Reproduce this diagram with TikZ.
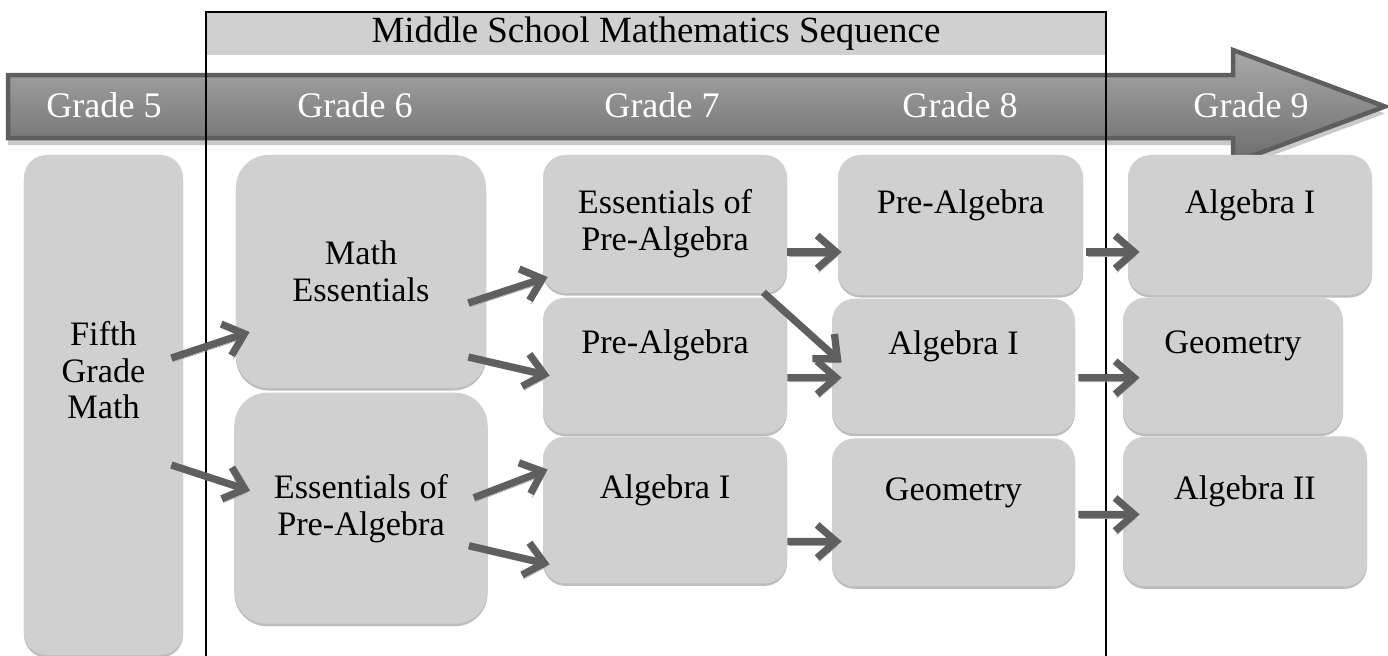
\documentclass[tikz,border=0pt]{standalone}
\usepackage{fontspec}
\setmainfont{Liberation Serif}
\usetikzlibrary{arrows.meta,positioning,calc}
\definecolor{msbox}{HTML}{D0D0D0}
\definecolor{msboxshade}{HTML}{BDBDBD}
\definecolor{msarrow}{HTML}{5F5F5F}
\definecolor{msshadow}{HTML}{ADADAD}
\definecolor{msbandtop}{HTML}{AAAAAA}
\definecolor{msbandbot}{HTML}{6C6C6C}
\definecolor{msbandline}{HTML}{5E5E5E}
\definecolor{msbandshade}{HTML}{C9C9C9}

\begin{document}
\begin{tikzpicture}[x=0.2mm,y=-0.2mm,
  course/.style={fill=msbox,rounded corners=4.5mm,align=center,inner sep=0pt,
    font=\fontsize{19.5}{21}\selectfont,
    preaction={fill=msboxshade,transform canvas={yshift=-0.5mm}}},
  oneline/.style={text depth=9.5mm},
  grade/.style={text=white,font=\fontsize{20.5}{24}\selectfont},
  flow/.style={-{Straight Barb[length=3.8mm,width=6.6mm]},msarrow,line width=1.45mm,
    preaction={draw=msshadow,-{Straight Barb[length=3.8mm,width=6.6mm]},
      transform canvas={xshift=0.3mm,yshift=-0.8mm}}}]
\useasboundingbox (0,0) rectangle (1388,656);

% grade banner
\path[draw=msbandline,line width=0.9mm,line join=miter,top color=msbandtop,bottom color=msbandbot,
  preaction={fill=msbandshade,transform canvas={yshift=-1.4mm}}]
  (8,75) -- (1233,75) -- (1233,50) -- (1385,106.5) -- (1233,163) -- (1233,138) -- (8,138) -- cycle;
\node[grade] (g5) at (104,105.5) {Grade 5};
\node[grade] (g6) at (355,105.5) {Grade 6};
\node[grade] (g7) at (662,105.5) {Grade 7};
\node[grade] (g8) at (960,105.5) {Grade 8};
\node[grade] (g9) at (1251,105.5) {Grade 9};

% middle school frame
\node[fill=msbox,minimum width=180mm,minimum height=8.6mm,inner sep=0pt,
  font=\fontsize{21}{24}\selectfont] (seq) at (656,33.5) {Middle School Mathematics Sequence};
\draw[line width=0.4mm] (206,660) |- (1106,12) -- (1106,660);

% courses
\node[course,minimum width=31.8mm,minimum height=100mm,text depth=14mm] (fifth) at (103.5,405) {Fifth\\Grade\\Math};
\node[course,minimum width=50mm,minimum height=46.6mm,rounded corners=6.5mm] (mess) at (361,271.5) {Math\\Essentials};
\node[course,minimum width=50.6mm,minimum height=46.2mm,rounded corners=6.5mm,below=0.8mm of mess] (epa6) {Essentials of\\Pre-Algebra};

\node[course,minimum width=48.8mm,minimum height=27.6mm] (epa7) at (665,224) {Essentials of\\Pre-Algebra};
\node[course,oneline,minimum width=48.8mm,minimum height=27.2mm,below=0.8mm of epa7] (pa7) {Pre-Algebra};
\node[course,oneline,minimum width=48.8mm,minimum height=29.4mm,below=0.4mm of pa7] (alg7) {Algebra I};

\node[course,oneline,minimum width=49mm,minimum height=28mm] (pa8) at (960.5,225) {Pre-Algebra};
\node[course,oneline,minimum width=48.6mm,minimum height=27mm,below=0.6mm of pa8,xshift=-1.4mm] (alg8) {Algebra I};
\node[course,oneline,minimum width=48.6mm,minimum height=29.6mm,below=0.8mm of alg8] (geo8) {Geometry};

\node[course,oneline,minimum width=48.8mm,minimum height=28mm] (alg9) at (1250,225) {Algebra I};
\node[course,oneline,minimum width=44mm,minimum height=27.2mm,below=0.4mm of alg9,xshift=-3.4mm] (geo9) {Geometry};
\node[course,oneline,minimum width=48.8mm,minimum height=30mm,below=0.4mm of geo9,xshift=2.4mm] (alg2) {Algebra II};

% pathways
\draw[flow] ($(fifth.east)+(-12,-47)$) -- ($(mess.west)+(14,60.5)$);
\draw[flow] ($(fifth.east)+(-12,60)$) -- ($(epa6.west)+(16,-17.5)$);
\draw[flow] ($(mess.east)+(-18,31.5)$) -- ($(epa7.west)+(5,53)$);
\draw[flow] ($(mess.east)+(-18,85.5)$) -- ($(pa7.west)+(7,10)$);
\draw[flow] ($(epa6.east)+(-14,-10.5)$) -- ($(alg7.west)+(5,-40.5)$);
\draw[flow] ($(epa6.east)+(-19,37.5)$) -- ($(alg7.west)+(7,54.5)$);
\draw[flow] ($(epa7.east)+(0,28)$) -- ($(pa8.west)+(4,27)$);
\draw[flow] ($(epa7.south east)+(-24,-1)$) -- ($(alg8.west)+(10,-3.5)$);
\draw[flow] ($(pa7.east)+(0,12)$) -- ($(alg8.west)+(10,11.5)$);
\draw[flow] ($(alg7.east)+(0,31.5)$) -- ($(geo8.west)+(10,29)$);
\draw[flow] ($(pa8.east)+(3,27)$) -- ($(alg9.west)+(12,27)$);
\draw[flow] ($(alg8.east)+(3,11.5)$) -- ($(geo9.west)+(17,12)$);
\draw[flow] ($(geo8.east)+(3,2)$) -- ($(alg2.west)+(17,3)$);
\end{tikzpicture}
\end{document}
